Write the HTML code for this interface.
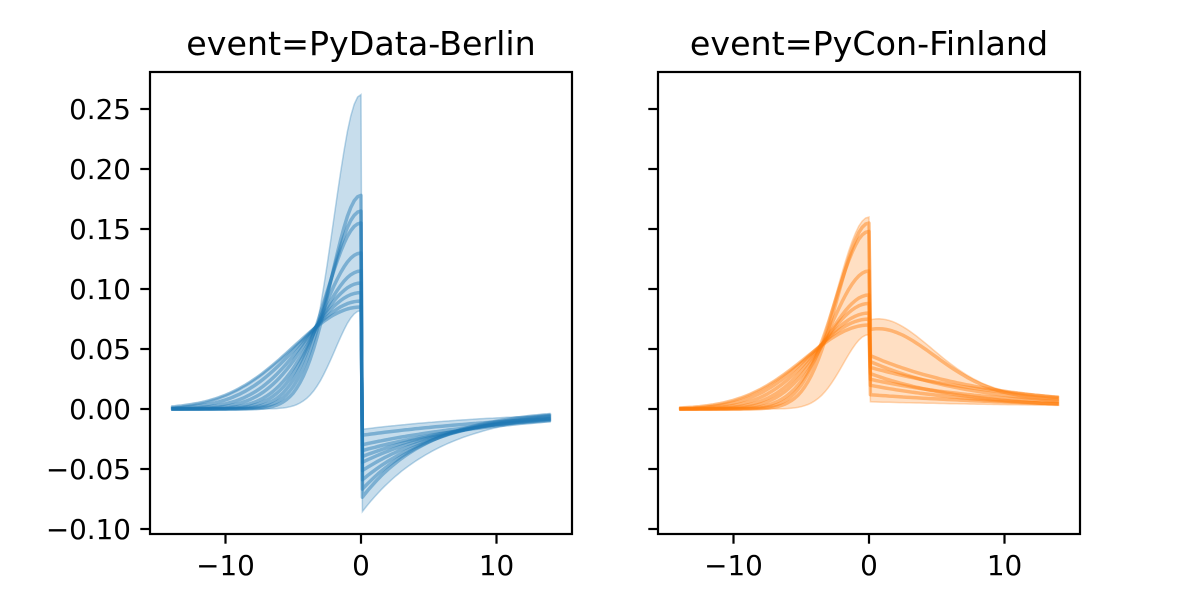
<!DOCTYPE html>
<html><head><meta charset="utf-8"><style>
html,body{margin:0;padding:0;background:#fff;}
svg text{font-family:"DejaVu Sans","Liberation Sans",sans-serif;fill:#000;}
</style></head><body>
<svg id="s" width="1200" height="600" xmlns="http://www.w3.org/2000/svg">
<rect width="1200" height="600" fill="#fff"/>
<g id="g"></g>
</svg>
<script>
const NS="http://www.w3.org/2000/svg";
const g=document.getElementById('g');
function el(tag,attrs,text){const e=document.createElementNS(NS,tag);for(const k in attrs)e.setAttribute(k,attrs[k]);if(text!==undefined)e.textContent=text;g.appendChild(e);return e;}
const Y=v=>409-v*1200;
const ts=[];for(let t=-14;t<=14.0001;t+=0.25)ts.push(+t.toFixed(2));
function gauss(A,s){return t=>A*Math.exp(-t*t/(2*s*s));}
function panel(x0,x1,color,left,right,bandL,bandR,labels,title,cx){
  const X=t=>cx+t*13.55;
  const negT=ts.filter(t=>t<=0), posT=ts.filter(t=>t>0);
  const up=[],lo=[];
  negT.forEach(t=>{const v=left.map(f=>f(t));up.push([t,Math.max(...v,bandL[0](t))]);lo.push([t,Math.min(...v,bandL[1](t))]);});
  const pt=[0.1].concat(posT);
  pt.forEach(t=>{const v=right.map(f=>f(t));up.push([t,Math.max(...v,bandR[0](t))]);lo.push([t,Math.min(...v,bandR[1](t))]);});
  let d='M'+up.map(p=>X(p[0]).toFixed(1)+','+Y(p[1]).toFixed(1)).join('L');
  d+='L'+lo.reverse().map(p=>X(p[0]).toFixed(1)+','+Y(p[1]).toFixed(1)).join('L')+'Z';
  el('path',{d:d,fill:color,'fill-opacity':0.25,stroke:color,'stroke-opacity':0.3,'stroke-width':1.5});
  const n=Math.max(left.length,right.length);
  for(let i=0;i<n;i++){
    const fl=left[i%left.length],fr=right[i%right.length];
    let p=negT.map(t=>[t,fl(t)]).concat(pt.map(t=>[t,fr(t)]));
    el('path',{d:'M'+p.map(q=>X(q[0]).toFixed(1)+','+Y(q[1]).toFixed(1)).join('L'),fill:'none',stroke:color,'stroke-opacity':0.45,'stroke-width':3.5,'stroke-linejoin':'round'});
  }
  el('rect',{x:x0,y:72,width:x1-x0,height:462,fill:'none',stroke:'#000','stroke-width':2.2});
  [-0.1,-0.05,0,0.05,0.1,0.15,0.2,0.25].forEach(v=>{
    const y=Y(v);el('line',{x1:x0-9.7,x2:x0,y1:y,y2:y,stroke:'#000','stroke-width':2.2});
    if(labels)el('text',{x:x0-19,y:y+10,'text-anchor':'end','font-size':27.8},(v<0?'\u2212':'')+Math.abs(v).toFixed(2));
  });
  [-10,0,10].forEach(t=>{const x=X(t);el('line',{x1:x,x2:x,y1:534,y2:543.7,stroke:'#000','stroke-width':2.2});
    el('text',{x:x,y:575,'text-anchor':'middle','font-size':27.8},(t<0?'\u2212':'')+Math.abs(t));});
  el('text',{x:(x0+x1)/2,y:55,'text-anchor':'middle','font-size':33.3},title);
}
// blue
const bl=[gauss(0.178,2.2),gauss(0.165,2.4),gauss(0.155,2.6),gauss(0.13,2.9),gauss(0.115,3.2),gauss(0.105,3.6),gauss(0.097,4.0),gauss(0.09,4.5),gauss(0.085,5.0)];
const br=[[0.075,5],[0.068,5.5],[0.06,6.2],[0.052,7],[0.045,8],[0.04,9],[0.035,11],[0.03,12],[0.022,14]].map(a=>t=>-a[0]*Math.exp(-t/a[1]));
panel(150,572,'#1f77b4',bl,br,[gauss(0.262,2.0),gauss(0.082,1.9)],[t=>-0.017*Math.exp(-t/12),t=>-0.087*Math.exp(-t/5.8)],true,'event=PyData-Berlin',361);
// orange
const ol=[gauss(0.155,2.3),gauss(0.148,2.5),gauss(0.115,2.8),gauss(0.095,3.2),gauss(0.088,3.5),gauss(0.08,3.9),gauss(0.075,4.3),gauss(0.07,4.7)];
const orr=[t=>0.066*Math.exp(-t*t/(2*4.6*4.6))+0.008*(1-Math.exp(-t/3)),
  t=>0.045*Math.exp(-t/9),t=>0.04*Math.exp(-t/8),t=>0.035*Math.exp(-t/11),t=>0.03*Math.exp(-t/7),
  t=>0.025*Math.exp(-t/10),t=>0.02*Math.exp(-t/9),t=>0.012*Math.exp(-t/14)];
panel(658,1080,'#ff7f0e',ol,orr,[gauss(0.16,2.4),gauss(0.062,1.9)],[t=>0.074*Math.exp(-t*t/(2*4.4*4.4))+0.01*(1-Math.exp(-t/3)),t=>0.006*Math.exp(-t/20)],false,'event=PyCon-Finland',869);
</script>
</body></html>
